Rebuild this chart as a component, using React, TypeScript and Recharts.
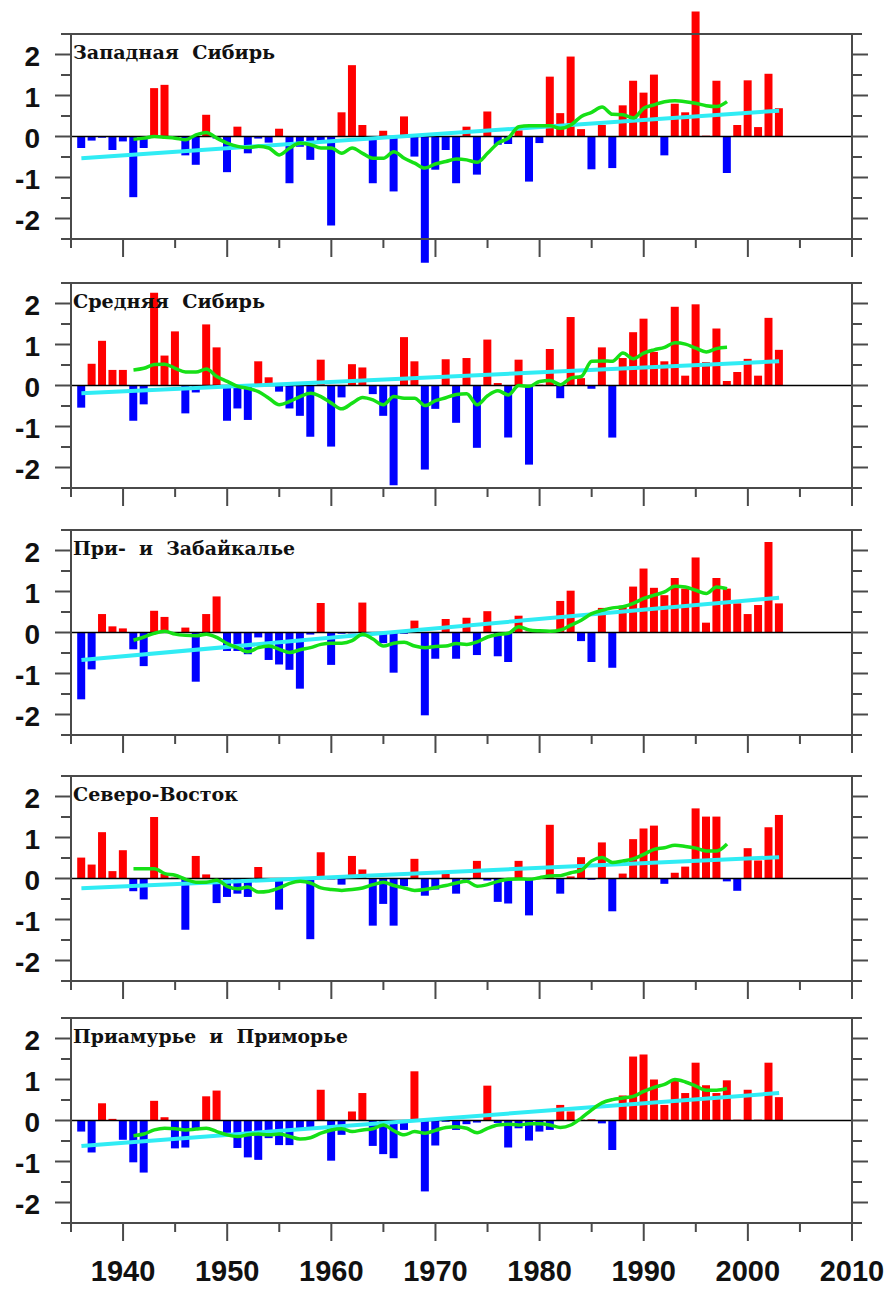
import React from 'react';
import { ComposedChart, Bar, Line, XAxis, YAxis, ReferenceLine, Cell } from 'recharts';

const YEARS = [
  1936, 1937, 1938, 1939, 1940, 1941, 1942, 1943, 1944, 1945, 1946, 1947, 1948, 1949, 1950,
  1951, 1952, 1953, 1954, 1955, 1956, 1957, 1958, 1959, 1960, 1961, 1962, 1963, 1964, 1965,
  1966, 1967, 1968, 1969, 1970, 1971, 1972, 1973, 1974, 1975, 1976, 1977, 1978, 1979, 1980,
  1981, 1982, 1983, 1984, 1985, 1986, 1987, 1988, 1989, 1990, 1991, 1992, 1993, 1994, 1995,
  1996, 1997, 1998, 1999, 2000, 2001, 2002, 2003,
];
const SMOOTH_FIRST_YEAR = 1941;
const TREND_YEARS = [1936, 2003];
const X_TICKS = [1935, 1940, 1945, 1950, 1955, 1960, 1965, 1970, 1975, 1980, 1985, 1990, 1995, 2000, 2005, 2010];
const Y_TICKS = [-2.5, -2, -1.5, -1, -0.5, 0, 0.5, 1, 1.5, 2, 2.5];

const TITLES = [
  'Западная  Сибирь',
  'Средняя  Сибирь',
  'При-  и  Забайкалье',
  'Северо-Восток',
  'Приамурье  и  Приморье',
];

const WEST_SIB = [
  -0.28, -0.1, -0.03, -0.33, -0.12, -1.48, -0.28, 1.18, 1.26, -0.05, -0.46, -0.69, 0.53, -0.05, -0.87,
  0.24, -0.41, -0.05, -0.15, 0.19, -1.14, -0.25, -0.57, -0.15, -2.17, 0.59, 1.74, 0.28, -1.14, 0.14,
  -1.34, 0.49, -0.49, -3.08, -0.81, -0.33, -1.14, 0.24, -0.93, 0.61, -0.2, -0.18, 0.15, -1.1, -0.16,
  1.46, 0.57, 1.95, 0.18, -0.8, 0.28, -0.77, 0.76, 1.36, 1.07, 1.51, -0.46, 0.8, 0.59, 3.05,
  0.02, 1.36, -0.89, 0.28, 1.37, 0.23, 1.53, 0.69,
];
const WEST_SIB_SMOOTH = [
  -0.07, -0.04, 0, -0.02, -0.04, -0.08, 0.04, 0.1, -0.04, -0.16,
  -0.24, -0.27, -0.24, -0.28, -0.45, -0.28, -0.16, -0.2, -0.28, -0.28,
  -0.41, -0.28, -0.41, -0.53, -0.53, -0.37, -0.53, -0.65, -0.77, -0.67,
  -0.61, -0.55, -0.57, -0.63, -0.41, -0.16, -0.04, 0.24, 0.26, 0.26,
  0.26, 0.2, 0.28, 0.49, 0.59, 0.72, 0.54, 0.53, 0.45, 0.69,
  0.77, 0.85, 0.87, 0.85, 0.81, 0.75, 0.73, 0.85,
];
const WEST_SIB_TREND = [-0.53, 0.63];

const CENTRAL_SIB = [
  -0.54, 0.53, 1.09, 0.38, 0.38, -0.86, -0.46, 2.26, 0.73, 1.32, -0.68, -0.17, 1.49, 0.93, -0.86,
  -0.56, -0.84, 0.59, 0.2, -0.15, -0.56, -0.74, -1.25, 0.63, -1.49, -0.29, 0.52, 0.44, -0.21, -0.74,
  -2.43, 1.18, 0.59, -2.05, -0.57, 0.64, -0.91, 0.67, -1.52, 1.12, 0.06, -1.27, 0.63, -1.93, 0.02,
  0.89, -0.31, 1.67, 0.18, -0.08, 0.93, -1.27, 0.67, 1.3, 1.63, 0.82, 0.59, 1.92, 0.24, 1.98,
  0.57, 1.39, 0.11, 0.33, 0.65, 0.24, 1.65, 0.87,
];
const CENTRAL_SIB_SMOOTH = [
  0.38, 0.42, 0.51, 0.52, 0.42, 0.33, 0.33, 0.4, 0.22, 0.1,
  -0.02, -0.07, -0.15, -0.31, -0.47, -0.39, -0.27, -0.19, -0.27, -0.43,
  -0.57, -0.43, -0.29, -0.35, -0.47, -0.27, -0.31, -0.31, -0.49, -0.37,
  -0.3, -0.22, -0.2, -0.47, -0.25, -0.13, -0.23, 0.0, -0.02, 0.1,
  0.12, 0.02, 0.18, 0.22, 0.59, 0.6, 0.59, 0.79, 0.65, 0.79,
  0.87, 0.93, 1.04, 1.01, 0.91, 0.82, 0.9, 0.93,
];
const CENTRAL_SIB_TREND = [-0.19, 0.59];

const BAIKAL = [
  -1.63, -0.9, 0.45, 0.15, 0.1, -0.41, -0.82, 0.53, 0.38, -0.03, 0.12, -1.2, 0.45, 0.88, -0.45,
  -0.45, -0.53, -0.12, -0.67, -0.78, -0.91, -1.37, -0.05, 0.72, -0.79, -0.03, -0.02, 0.73, -0.05, -0.26,
  -0.98, -0.03, 0.29, -2.02, -0.64, 0.33, -0.64, 0.36, -0.55, 0.52, -0.58, -0.72, 0.41, 0.02, 0.01,
  0.02, 0.77, 1.02, -0.21, -0.72, 0.6, -0.86, 0.65, 1.12, 1.56, 1.09, 0.91, 1.33, 1.07, 1.83,
  0.24, 1.33, 1.07, 0.71, 0.45, 0.67, 2.21, 0.71,
];
const BAIKAL_SMOOTH = [
  -0.19, -0.11, -0.02, 0.03, -0.04, -0.07, -0.08, -0.04, -0.12, -0.27,
  -0.37, -0.47, -0.37, -0.33, -0.41, -0.49, -0.42, -0.37, -0.29, -0.26,
  -0.26, -0.2, -0.04, -0.16, -0.33, -0.26, -0.24, -0.33, -0.37, -0.34,
  -0.33, -0.27, -0.29, -0.23, -0.11, -0.05, -0.02, 0.14, 0.06, 0.04,
  0.03, 0.06, 0.18, 0.3, 0.46, 0.54, 0.6, 0.63, 0.71, 0.83,
  0.91, 0.99, 1.13, 1.11, 1.03, 0.95, 1.11, 1.07,
];
const BAIKAL_TREND = [-0.67, 0.85];

const NORTH_EAST = [
  0.51, 0.34, 1.13, 0.18, 0.69, -0.31, -0.51, 1.5, 0.11, 0.02, -1.25, 0.55, 0.1, -0.6, -0.45,
  -0.37, -0.45, 0.28, -0.02, -0.76, -0.03, -0.02, -1.48, 0.64, -0.02, -0.15, 0.55, 0.22, -1.15, -0.62,
  -1.15, -0.19, 0.48, -0.42, -0.27, 0.11, -0.37, -0.03, 0.43, -0.05, -0.57, -0.61, 0.43, -0.9, 0.02,
  1.31, -0.37, 0.05, 0.52, -0.03, 0.88, -0.8, 0.12, 0.96, 1.22, 1.29, -0.13, 0.14, 0.29, 1.71,
  1.51, 1.51, -0.07, -0.3, 0.74, 0.44, 1.25, 1.55,
];
const NORTH_EAST_SMOOTH = [
  0.24, 0.24, 0.24, 0.12, 0.08, -0.02, -0.09, -0.09, -0.04, -0.19,
  -0.25, -0.21, -0.33, -0.31, -0.23, -0.12, -0.07, -0.11, -0.23, -0.27,
  -0.29, -0.27, -0.23, -0.15, -0.09, -0.17, -0.23, -0.29, -0.27, -0.22,
  -0.17, -0.11, -0.07, -0.19, -0.15, -0.07, -0.02, -0.01, -0.02, 0.02,
  0.06, 0.07, 0.14, 0.2, 0.43, 0.51, 0.39, 0.43, 0.48, 0.59,
  0.71, 0.75, 0.81, 0.78, 0.74, 0.67, 0.67, 0.84,
];
const NORTH_EAST_TREND = [-0.24, 0.52];

const AMUR = [
  -0.27, -0.78, 0.42, 0.04, -0.47, -1.02, -1.27, 0.48, 0.08, -0.68, -0.66, -0.19, 0.59, 0.73, -0.3,
  -0.67, -0.9, -0.96, -0.43, -0.6, -0.6, -0.23, -0.19, 0.75, -0.98, -0.35, 0.22, 0.67, -0.62, -0.82,
  -0.92, -0.23, 1.2, -1.73, -0.61, -0.03, -0.23, -0.09, -0.05, 0.85, -0.06, -0.66, -0.19, -0.49, -0.27,
  -0.23, 0.38, 0.22, 0.02, 0.03, -0.07, -0.72, 0.61, 1.56, 1.61, 1.0, 0.38, 0.98, 0.67, 1.41,
  0.86, 0.67, 0.98, 0.02, 0.75, 0.02, 1.41, 0.57,
];
const AMUR_SMOOTH = [
  -0.37, -0.33, -0.23, -0.19, -0.2, -0.23, -0.21, -0.19, -0.27, -0.35,
  -0.39, -0.35, -0.33, -0.35, -0.33, -0.39, -0.45, -0.42, -0.31, -0.23,
  -0.2, -0.27, -0.23, -0.2, -0.11, -0.25, -0.35, -0.27, -0.31, -0.24,
  -0.17, -0.15, -0.19, -0.3, -0.19, -0.11, -0.09, -0.11, -0.08, -0.08,
  -0.11, -0.17, -0.11, 0.06, 0.26, 0.43, 0.51, 0.55, 0.59, 0.71,
  0.81, 0.88, 1.0, 0.94, 0.84, 0.74, 0.74, 0.78,
];
const AMUR_TREND = [-0.62, 0.67];

const SERIES = [
  { values: WEST_SIB, smooth: WEST_SIB_SMOOTH, trend: WEST_SIB_TREND },
  { values: CENTRAL_SIB, smooth: CENTRAL_SIB_SMOOTH, trend: CENTRAL_SIB_TREND },
  { values: BAIKAL, smooth: BAIKAL_SMOOTH, trend: BAIKAL_TREND },
  { values: NORTH_EAST, smooth: NORTH_EAST_SMOOTH, trend: NORTH_EAST_TREND },
  { values: AMUR, smooth: AMUR_SMOOTH, trend: AMUR_TREND },
];

// layout
const PLOT_TOPS = [34, 283, 530, 776, 1018];
const PLOT_H = 205;
const TOP_PAD = 30;
const RED = '#ff0000';
const BLUE = '#0000ff';
const GREEN = '#16e016';
const CYAN = '#30ecf4';
const AXIS = '#4a4a4a';
const SANS = '"Liberation Sans", Arial, sans-serif';
const SERIF = '"DejaVu Serif", "Liberation Serif", serif';
const TITLE_WIDTHS = [202, 192, 222, 165, 275];

function buildRows(s: { values: number[]; smooth: number[]; trend: number[] }) {
  return YEARS.map((year, i) => {
    const si = year - SMOOTH_FIRST_YEAR;
    const ti = TREND_YEARS.indexOf(year);
    return {
      year,
      v: s.values[i],
      smooth: si >= 0 && si < s.smooth.length ? s.smooth[si] : null,
      trend: ti >= 0 ? s.trend[ti] : null,
    };
  });
}

const LeftTick = (props: any) => {
  const { x, y, payload } = props;
  const v = payload.value;
  const major = Number.isInteger(v);
  return (
    <g>
      <line x1={x - (major ? 16 : 10)} x2={x} y1={y} y2={y} stroke={AXIS} strokeWidth={2} />
      {major && (
        <text
          x={x - 31}
          y={y + 2}
          textAnchor="end"
          dominantBaseline="central"
          fontFamily={SANS}
          fontWeight="bold"
          fontSize={28}
          fill="#111"
        >
          {String(v)}
        </text>
      )}
    </g>
  );
};

const RightTick = (props: any) => {
  const { x, y, payload } = props;
  const major = Number.isInteger(payload.value);
  return <line x1={x} x2={x + (major ? 16 : 10)} y1={y} y2={y} stroke={AXIS} strokeWidth={2} />;
};

const makeBottomTick = (showLabel: boolean) => (props: any) => {
  const { x, y, payload } = props;
  const v = payload.value;
  const major = v % 10 === 0;
  return (
    <g>
      <line x1={x} x2={x} y1={y} y2={y + (major ? 18 : 9)} stroke={AXIS} strokeWidth={2} />
      {showLabel && major && (
        <text
          x={x}
          y={y + 58}
          textAnchor="middle"
          fontFamily={SANS}
          fontWeight="bold"
          fontSize={29}
          fill="#111"
        >
          {String(v)}
        </text>
      )}
    </g>
  );
};

function Panel({ idx }: { idx: number }) {
  const rows = buildRows(SERIES[idx]);
  const last = idx === SERIES.length - 1;
  const xH = last ? 69 : 30;
  const height = TOP_PAD + PLOT_H + xH;
  return (
    <div style={{ position: 'absolute', left: 0, top: PLOT_TOPS[idx] - TOP_PAD, width: 893, height }}>
      <ComposedChart
        width={893}
        height={height}
        data={rows}
        margin={{ top: TOP_PAD, right: 21, left: 21, bottom: 0 }}
      >
        <XAxis
          dataKey="year"
          type="number"
          domain={[1935, 2010]}
          ticks={X_TICKS}
          interval={0}
          height={xH}
          tickSize={0}
          tickMargin={0}
          tickLine={false}
          axisLine={{ stroke: AXIS, strokeWidth: 2 }}
          tick={makeBottomTick(last)}
        />
        <YAxis
          yAxisId="left"
          type="number"
          domain={[-2.5, 2.5]}
          allowDataOverflow
          ticks={Y_TICKS}
          interval={0}
          width={50}
          tickSize={0}
          tickMargin={0}
          tickLine={false}
          axisLine={{ stroke: AXIS, strokeWidth: 2 }}
          tick={LeftTick}
        />
        <YAxis
          yAxisId="right"
          orientation="right"
          type="number"
          domain={[-2.5, 2.5]}
          allowDataOverflow
          ticks={Y_TICKS}
          interval={0}
          width={20}
          tickSize={0}
          tickMargin={0}
          tickLine={false}
          axisLine={{ stroke: AXIS, strokeWidth: 2 }}
          tick={RightTick}
        />
        <ReferenceLine yAxisId="left" y={2.5} stroke={AXIS} strokeWidth={2} ifOverflow="visible" />
        <Bar yAxisId="left" dataKey="v" barSize={8} isAnimationActive={false}>
          {rows.map((r, i) => (
            <Cell key={i} fill={r.v >= 0 ? RED : BLUE} />
          ))}
        </Bar>
        <ReferenceLine yAxisId="left" y={0} stroke="#000" strokeWidth={1.5} ifOverflow="visible" />
        <Line
          yAxisId="left"
          dataKey="trend"
          stroke={CYAN}
          strokeWidth={4}
          dot={false}
          connectNulls
          isAnimationActive={false}
        />
        <Line
          yAxisId="left"
          dataKey="smooth"
          type="monotone"
          stroke={GREEN}
          strokeWidth={3.5}
          dot={false}
          isAnimationActive={false}
        />
      </ComposedChart>
    </div>
  );
}

export default function App() {
  return (
    <div
      style={{
        position: 'absolute',
        left: 0,
        top: 0,
        width: 893,
        height: 1292,
        overflow: 'hidden',
        background: '#fff',
      }}
    >
      <style>{`.recharts-surface{overflow:visible} .recharts-wrapper g{clip-path:none !important}`}</style>
      {SERIES.map((_, i) => (
        <Panel key={i} idx={i} />
      ))}
      <svg
        width={893}
        height={1292}
        style={{ position: 'absolute', left: 0, top: 0, pointerEvents: 'none' }}
      >
        {TITLES.map((t, i) => (
          <text
            key={i}
            x={73}
            y={PLOT_TOPS[i] + 25}
            fontFamily={SERIF}
            fontWeight="bold"
            fontSize={18}
            fill="#111"
            textLength={TITLE_WIDTHS[i]}
            lengthAdjust="spacingAndGlyphs"
            style={{ whiteSpace: 'pre' }}
          >
            {t}
          </text>
        ))}
      </svg>
    </div>
  );
}
